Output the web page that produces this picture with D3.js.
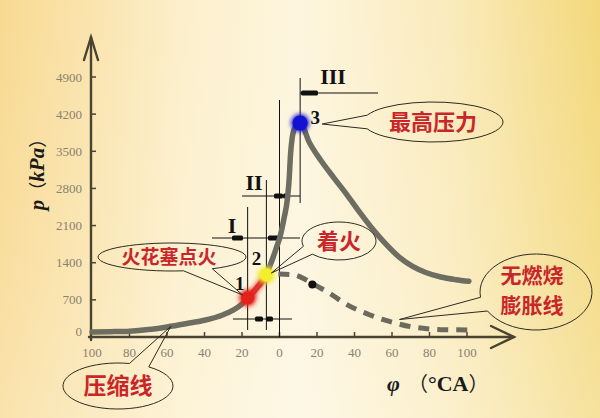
<!DOCTYPE html>
<html><head><meta charset="utf-8">
<script src="https://cdn.jsdelivr.net/npm/d3@7"></script>
<style>html,body{margin:0;padding:0;background:#fbeec0;} svg{display:block;}</style>
</head><body>
<svg id="chart" width="600" height="418"></svg>
<script>
// ---------- data ----------
const xTickValues = [-100,-80,-60,-40,-20,0,20,40,60,80,100];
const xTickLabels = ["100","80","60","40","20","0","20","40","60","80","100"];
const yTickValues = [0,700,1400,2100,2800,3500,4200,4900];
const yTickLabels = ["0","700","1400","2100","2800","3500","4200","4900"];

// main (fired) pressure curve
const curvePhi = [-100,-90,-80,-70,-60,-50,-40,-30,-25,-20,-17,-12,-7,-5,-3.3,-1.5,0.3,2.5,4.2,5.2,5.8,6.8,8.3,11,16,22,29,36,43,50,57,64,71,78,86,94,101];
const curveP   = [95,100,110,140,190,250,315,420,500,620,735,930,1168,1350,1513,1700,1890,2250,2600,3000,3400,3760,3950,4033,3660,3330,3000,2680,2340,2020,1740,1500,1330,1215,1130,1080,1050];

// motored (no combustion) expansion curve
const dashPhi = [-7,0,8,14,20,27,34,41,48,55,62,70,80,90,102];
const dashP   = [1168,1185,1170,1080,960,820,650,520,420,330,260,195,152,137,132];

// key points
const keyLabels = ["1","2","3"];
const keyPhi = [-17,-7,11];
const keyP = [735,1168,4033];
const keyColors = ["#e3221c","#f2ee2c","#1212d0"];

const blackDotPhi = [17.5];
const blackDotP = [990];

// ---------- setup ----------
const svg = d3.select("#chart");
const W = 600, H = 418;
const x = d3.scaleLinear().domain([-100,100]).range([92,467]);
const y = d3.scaleLinear().domain([0,4900]).range([337,77]);

const defs = svg.append("defs");
const bg = defs.append("linearGradient").attr("id","bg").attr("x1","0").attr("x2","1").attr("y1","0").attr("y2","0");
[["0%","#f8d991"],["30%","#fcefca"],["50%","#fdf5de"],["75%","#faebbc"],["100%","#f3d87c"]].forEach(s=>bg.append("stop").attr("offset",s[0]).attr("stop-color",s[1]));
const bg2 = defs.append("linearGradient").attr("id","bg2").attr("x1","0").attr("x2","0").attr("y1","0").attr("y2","1");
[["0%","#ffffff",0.0],["60%","#ffffff",0.12],["100%","#ffffff",0.25]].forEach(s=>bg2.append("stop").attr("offset",s[0]).attr("stop-color",s[1]).attr("stop-opacity",s[2]));
const blur = defs.append("filter").attr("id","glow").attr("x","-100%").attr("y","-100%").attr("width","300%").attr("height","300%");
blur.append("feGaussianBlur").attr("stdDeviation",2.2);
const soft = defs.append("filter").attr("id","soft");
soft.append("feGaussianBlur").attr("stdDeviation",0.5);

svg.append("rect").attr("width",W).attr("height",H).attr("fill","url(#bg)");
svg.append("rect").attr("width",W).attr("height",H).attr("fill","url(#bg2)");

const axisColor = "#4b4331";
const tickText = "#8b8170";

// ---------- axes ----------
const x0 = x.range()[0] - 1, yAx = y(0);
const axisG = svg.append("g").attr("stroke",axisColor).attr("fill","none").attr("stroke-width",2.4).attr("stroke-linecap","round");
axisG.append("line").attr("x1",x0).attr("y1",yAx+3).attr("x2",x0).attr("y2",37);
axisG.append("polyline").attr("points",`${x0-7},60 ${x0},37 ${x0+7},60`);
axisG.append("line").attr("x1",x0-2).attr("y1",yAx).attr("x2",514).attr("y2",yAx);
axisG.append("polyline").attr("points",`491,326 514,${yAx} 491,348`);

// y ticks
const yt = svg.append("g");
yTickValues.forEach((v,i)=>{
  if (v>0) yt.append("line").attr("x1",x0).attr("x2",x0+5).attr("y1",y(v)).attr("y2",y(v)).attr("stroke",axisColor).attr("stroke-width",1.5);
  yt.append("text").attr("x",82).attr("y",v===0? y(v)-6 : y(v)).attr("dy","0.35em")
    .attr("text-anchor","end").attr("font-family","Liberation Serif, serif").attr("font-size",13)
    .attr("fill",tickText).text(yTickLabels[i]);
});
// x ticks
const xt = svg.append("g");
xTickValues.forEach((v,i)=>{
  if (v>-100) xt.append("line").attr("x1",x(v)).attr("x2",x(v)).attr("y1",yAx).attr("y2",yAx-5).attr("stroke",axisColor).attr("stroke-width",1.5);
  xt.append("text").attr("x",x(v)).attr("y",357).attr("text-anchor","middle")
    .attr("font-family","Liberation Serif, serif").attr("font-size",13).attr("fill",tickText).text(xTickLabels[i]);
});

// axis titles
const yTitle = svg.append("text").attr("transform","translate(44,170) rotate(-90)").attr("text-anchor","middle")
  .attr("font-family","Liberation Serif, serif").attr("font-size",21).attr("font-weight","bold").attr("fill","#1a1a1a");
yTitle.append("tspan").attr("font-style","italic").text("p");
yTitle.append("tspan").attr("font-family","Noto Sans CJK SC").attr("font-weight","normal").attr("font-size",18).text("（");
yTitle.append("tspan").attr("font-style","italic").text("kPa");
yTitle.append("tspan").attr("font-family","Noto Sans CJK SC").attr("font-weight","normal").attr("font-size",18).text("）");

const xTitle = svg.append("text").attr("x",387).attr("y",391)
  .attr("font-family","Liberation Serif, serif").attr("font-size",22).attr("font-weight","bold").attr("fill","#1a1a1a");
xTitle.append("tspan").attr("font-style","italic").text("φ");
xTitle.append("tspan").attr("dx",8).attr("font-family","Noto Sans CJK SC").attr("font-weight","normal").attr("font-size",20).text("（");
xTitle.append("tspan").text("°CA");
xTitle.append("tspan").attr("font-family","Noto Sans CJK SC").attr("font-weight","normal").attr("font-size",20).text("）");

// ---------- dimension annotations ----------
const ann = svg.append("g").attr("stroke","#111").attr("fill","none").attr("stroke-width",1);
const vlines = [[keyPhi[0],207,330],[keyPhi[1],180,330],[0,100,337],[keyPhi[2],78,203]];
vlines.forEach(d=>ann.append("line").attr("x1",x(d[0])).attr("x2",x(d[0])).attr("y1",d[1]).attr("y2",d[2]));
const hdims = [
  {y:319, x1:233, x2:292, marks:[[255,263],[266,273]]},
  {y:238, x1:212, x2:300, marks:[[232,243],[268,280]]},
  {y:196, x1:242, x2:300, marks:[[274,283],[283,290]]},
  {y:93,  x1:300, x2:378, marks:[[301,318]]}
];
hdims.forEach(d=>{
  ann.append("line").attr("x1",d.x1).attr("x2",d.x2).attr("y1",d.y).attr("y2",d.y);
  d.marks.forEach(m=>svg.append("rect").attr("x",m[0]).attr("y",d.y-2.5).attr("width",m[1]-m[0]).attr("height",5).attr("rx",1.5).attr("fill","#111"));
});
[["I",232,225],["II",254,182],["III",333,76]].forEach(d=>svg.append("text").attr("x",d[1]).attr("y",d[2]).attr("dy","0.35em")
  .attr("text-anchor","middle").attr("font-family","Liberation Serif, serif").attr("font-weight","bold").attr("font-size",22).attr("fill","#111").text(d[0]));

// ---------- curves ----------
const line = d3.line().x(d=>x(d[0])).y(d=>y(d[1])).curve(d3.curveMonotoneX);
const mainPts = curvePhi.map((p,i)=>[p,curveP[i]]);
const dashPts = dashPhi.map((p,i)=>[p,dashP[i]]);
svg.append("path").attr("d",line(dashPts)).attr("fill","none").attr("stroke","#6c6a5c")
  .attr("stroke-width",5).attr("stroke-dasharray","11 8").attr("stroke-dashoffset",-12).attr("filter","url(#soft)");
svg.append("path").attr("d",line(mainPts)).attr("fill","none").attr("stroke","#6e6d62")
  .attr("stroke-width",5.5).attr("stroke-linecap","round").attr("filter","url(#soft)");
const redPts = mainPts.filter(d=>d[0]>=keyPhi[0] && d[0]<=keyPhi[1]);
svg.append("path").attr("d",line(redPts)).attr("fill","none").attr("stroke","#e2302a").attr("stroke-width",7).attr("filter","url(#glow)").attr("opacity",0.8);
svg.append("path").attr("d",line(redPts)).attr("fill","none").attr("stroke","#e2302a").attr("stroke-width",5);

// points
keyPhi.forEach((p,i)=>{
  svg.append("circle").attr("cx",x(p)).attr("cy",y(keyP[i])).attr("r",i===2?9:8.5).attr("fill",keyColors[i]).attr("filter","url(#glow)");
  svg.append("circle").attr("cx",x(p)).attr("cy",y(keyP[i])).attr("r",i===2?7.5:6.5).attr("fill",keyColors[i]);
});
blackDotPhi.forEach((p,i)=>svg.append("circle").attr("cx",x(p)).attr("cy",y(blackDotP[i])).attr("r",4).attr("fill","#111"));
const labelOff = [[-8,-15],[-10,-17],[15,-6]];
keyLabels.forEach((t,i)=>svg.append("text").attr("x",x(keyPhi[i])+labelOff[i][0]).attr("y",y(keyP[i])+labelOff[i][1]).attr("dy","0.35em")
  .attr("text-anchor","middle").attr("font-family","Liberation Serif, serif").attr("font-weight","bold").attr("font-size",19).attr("fill","#111").text(t));

// ---------- callouts ----------
function callout(c){
  const r = Math.PI/180;
  const a1 = (c.ang + c.half)*r, a2 = (c.ang - c.half)*r;
  const p1 = [c.cx + c.rx*Math.cos(a1), c.cy + c.ry*Math.sin(a1)];
  const p2 = [c.cx + c.rx*Math.cos(a2), c.cy + c.ry*Math.sin(a2)];
  const d = `M${p1[0]},${p1[1]} A${c.rx},${c.ry} 0 1 1 ${p2[0]},${p2[1]} L${c.tip[0]},${c.tip[1]} Z`;
  svg.append("path").attr("d",d).attr("fill","none").attr("stroke","#2e2a20").attr("stroke-width",1);
  c.lines.forEach((s,j)=>svg.append("text").attr("text-anchor","middle")
    .attr("font-family","Noto Sans CJK SC").attr("font-weight","bold").attr("font-size",c.fs).attr("fill","#c9262a")
    .attr("x",c.tx).attr("y",c.ty + j*c.lh).attr("dy","0.36em").text(s));
}
const callouts = [
  {cx:433,cy:122,rx:70,ry:20,ang:180,half:20,tip:[x(keyPhi[2])+22,y(keyP[2])+1],lines:["最高压力"],tx:433,ty:122,fs:22,lh:0},
  {cx:339,cy:241,rx:37,ry:19,ang:150,half:14,tip:[x(keyPhi[1])+5,y(keyP[1])-2],lines:["着火"],tx:339,ty:241,fs:22,lh:0},
  {cx:172,cy:257,rx:74,ry:14,ang:69,half:12,tip:[x(keyPhi[0])-5,y(keyP[0])-3],lines:["火花塞点火"],tx:169,ty:257,fs:19,lh:0},
  {cx:118,cy:386,rx:55,ry:23,ang:-67,half:11,tip:[x(-58),y(200)],lines:["压缩线"],tx:118,ty:386,fs:23,lh:0},
  {cx:536,cy:292,rx:56,ry:38,ang:161,half:11,tip:[x(64),y(330)],lines:["无燃烧","膨胀线"],tx:532,ty:275,fs:21,lh:30.5}
];
callouts.forEach(callout);
</script>
</body></html>
